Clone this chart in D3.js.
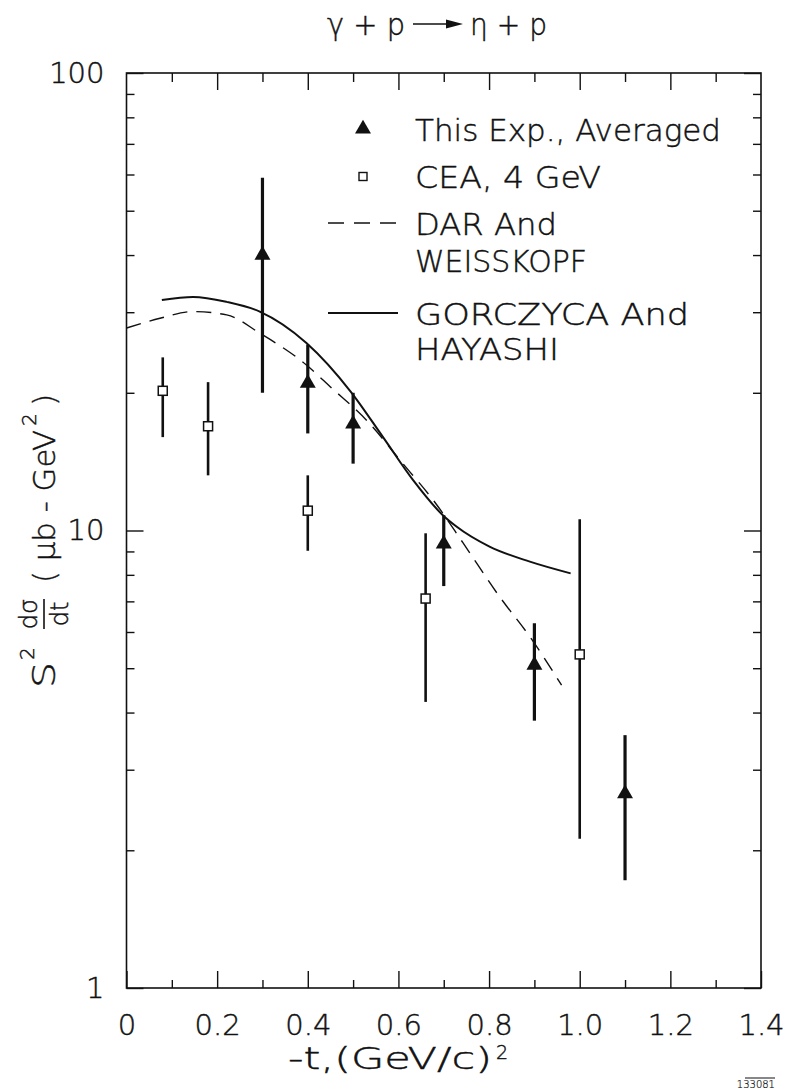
<!DOCTYPE html>
<html>
<head>
<meta charset="utf-8">
<script src="https://cdn.jsdelivr.net/npm/d3@7"></script>
<style>
  body { margin: 0; background: #fff; }
  svg { display: block; }
  text { font-family: "DejaVu Sans", "Liberation Sans", sans-serif; font-weight: 200; fill: #111; stroke: #111; stroke-width: 0.45px; }
</style>
</head>
<body>
<div id="chart"></div>
<script>
// tick values
let x_major = [0, 0.2, 0.4, 0.6, 0.8, 1.0, 1.2, 1.4]
let x_labels = ["0", "0.2", "0.4", "0.6", "0.8", "1.0", "1.2", "1.4"]
let x_minor = [0.1, 0.3, 0.5, 0.7, 0.9, 1.1, 1.3]
let y_major = [1, 10, 100]
let y_labels = ["1", "10", "100"]
let y_minor = [2, 3, 4, 5, 6, 7, 8, 9, 20, 30, 40, 50, 60, 70, 80, 90]

// this experiment, averaged (triangles)
let exp_t = [0.3, 0.4, 0.5, 0.7, 0.9, 1.1]
let exp_val = [40, 21, 17.1, 9.35, 5.08, 2.66]
let exp_lo = [20, 16.3, 14.0, 7.56, 3.84, 1.72]
let exp_hi = [59, 25.5, 20.0, 10.8, 6.27, 3.57]

// CEA, 4 GeV (open squares)
let cea_t = [0.08, 0.18, 0.4, 0.66, 1.0]
let cea_val = [20.2, 16.9, 11.05, 7.1, 5.36]
let cea_lo = [16.0, 13.2, 9.03, 4.22, 2.12]
let cea_hi = [23.9, 21.1, 13.2, 9.86, 10.58]

// Dar and Weisskopf (dashed)
let dar_t = [0, 0.074, 0.147, 0.221, 0.294, 0.397, 0.45, 0.53, 0.61, 0.684, 0.743, 0.823, 0.89, 0.96]
let dar_val = [27.7, 29.1, 30.1, 29.6, 27.0, 23.0, 20.6, 17.4, 14.0, 11.4, 9.38, 7.17, 5.86, 4.59]

// Gorczyca and Hayashi (solid)
let gh_t = [0.078, 0.147, 0.221, 0.294, 0.397, 0.495, 0.566, 0.632, 0.698, 0.728, 0.801, 0.89, 0.98]
let gh_val = [31.9, 32.4, 31.6, 30.1, 25.7, 20.1, 16.0, 12.9, 10.8, 10.2, 9.22, 8.55, 8.06]

let width = 791
let height = 1090

let svg = d3.select("#chart").append("svg")
.attr("width", width)
.attr("height", height)

let x = d3.scaleLinear()
.domain([0, 1.4])
.range([126.5, 761])

let y = d3.scaleLog()
.domain([1, 100])
.range([988, 73])

// frame
svg.append("rect")
.attr("x", x(0))
.attr("y", y(100))
.attr("width", x(1.4) - x(0))
.attr("height", y(1) - y(100))
.attr("fill", "none")
.attr("stroke", "#111")
.attr("stroke-width", 1.6)

function styleAxis(g){
  g.select(".domain").remove()
  g.selectAll(".tick line").attr("stroke", "#111").attr("stroke-width", 1.4)
  g.selectAll(".tick text").attr("fill", "#111").style("font-size", "29px")
}

// bottom
svg.append("g")
.attr("transform", `translate(0,${y(1)})`)
.call(d3.axisBottom(x).tickValues(x_major).tickSize(-17).tickPadding(26).tickFormat((d, i) => x_labels[i]))
.call(styleAxis)

svg.append("g")
.attr("transform", `translate(0,${y(1)})`)
.call(d3.axisBottom(x).tickValues(x_minor).tickSize(-8).tickFormat(""))
.call(styleAxis)

// top
svg.append("g")
.attr("transform", `translate(0,${y(100)})`)
.call(d3.axisTop(x).tickValues(x_major.slice(1, -1)).tickSize(-17).tickFormat(""))
.call(styleAxis)

svg.append("g")
.attr("transform", `translate(0,${y(100)})`)
.call(d3.axisTop(x).tickValues(x_minor).tickSize(-9).tickFormat(""))
.call(styleAxis)

// left
svg.append("g")
.attr("transform", `translate(${x(0)},0)`)
.call(d3.axisLeft(y).tickValues(y_major).tickSize(-17).tickPadding(22).tickFormat((d, i) => y_labels[i]))
.call(styleAxis)

svg.append("g")
.attr("transform", `translate(${x(0)},0)`)
.call(d3.axisLeft(y).tickValues(y_minor).tickSize(-8).tickFormat(""))
.call(styleAxis)

// right
svg.append("g")
.attr("transform", `translate(${x(1.4)},0)`)
.call(d3.axisRight(y).tickValues(y_major).tickSize(-17).tickFormat(""))
.call(styleAxis)

svg.append("g")
.attr("transform", `translate(${x(1.4)},0)`)
.call(d3.axisRight(y).tickValues(y_minor).tickSize(-8).tickFormat(""))
.call(styleAxis)

// theory curves
let line = d3.line()
.x(d => x(d[0]))
.y(d => y(d[1]))
.curve(d3.curveMonotoneX)

svg.append("path")
.datum(dar_t.map((t, i) => [t, dar_val[i]]))
.attr("d", line)
.attr("fill", "none")
.attr("stroke", "#111")
.attr("stroke-width", 1.4)
.attr("stroke-dasharray", "15,9")

svg.append("path")
.datum(gh_t.map((t, i) => [t, gh_val[i]]))
.attr("d", line)
.attr("fill", "none")
.attr("stroke", "#111")
.attr("stroke-width", 2)

// CEA points
let cea = cea_t.map((t, i) => ({t: t, v: cea_val[i], lo: cea_lo[i], hi: cea_hi[i]}))

svg.selectAll(".cea_err")
.data(cea)
.enter()
.append("line")
.attr("class", "cea_err")
.attr("x1", d => x(d.t))
.attr("x2", d => x(d.t))
.attr("y1", d => y(d.lo))
.attr("y2", d => y(d.hi))
.attr("stroke", "#111")
.attr("stroke-width", 2.6)

svg.selectAll(".cea_pt")
.data(cea)
.enter()
.append("rect")
.attr("class", "cea_pt")
.attr("x", d => x(d.t) - 4.5)
.attr("y", d => y(d.v) - 4.5)
.attr("width", 9)
.attr("height", 9)
.attr("fill", "white")
.attr("stroke", "#111")
.attr("stroke-width", 1.5)

// this experiment
let exp = exp_t.map((t, i) => ({t: t, v: exp_val[i], lo: exp_lo[i], hi: exp_hi[i]}))

svg.selectAll(".exp_err")
.data(exp)
.enter()
.append("line")
.attr("class", "exp_err")
.attr("x1", d => x(d.t))
.attr("x2", d => x(d.t))
.attr("y1", d => y(d.lo))
.attr("y2", d => y(d.hi))
.attr("stroke", "#111")
.attr("stroke-width", 3.2)

let tri = d3.symbol().type(d3.symbolTriangle).size(110)

svg.selectAll(".exp_pt")
.data(exp)
.enter()
.append("path")
.attr("class", "exp_pt")
.attr("d", tri)
.attr("transform", d => `translate(${x(d.t)},${y(d.v)})`)
.attr("fill", "#111")

// legend
let leg = svg.append("g")

leg.append("path")
.attr("d", tri)
.attr("transform", "translate(363,129)")
.attr("fill", "#111")

leg.append("rect")
.attr("x", 359)
.attr("y", 172.5)
.attr("width", 8)
.attr("height", 8)
.attr("fill", "white")
.attr("stroke", "#111")
.attr("stroke-width", 1.4)

leg.append("line")
.attr("x1", 328).attr("x2", 398)
.attr("y1", 223).attr("y2", 223)
.attr("stroke", "#111")
.attr("stroke-width", 1.4)
.attr("stroke-dasharray", "16,10")

leg.append("line")
.attr("x1", 328).attr("x2", 398)
.attr("y1", 313).attr("y2", 313)
.attr("stroke", "#111")
.attr("stroke-width", 1.8)

let leg_texts = [
  {t: "This Exp., Averaged", y: 141, w: 306},
  {t: "CEA, 4 GeV", y: 188, w: 186},
  {t: "DAR  And", y: 235, w: 142},
  {t: "WEISSKOPF", y: 272, w: 172},
  {t: "GORCZYCA  And", y: 325, w: 274},
  {t: "HAYASHI", y: 360, w: 144}
]

leg.selectAll("text")
.data(leg_texts)
.enter()
.append("text")
.attr("x", 415)
.attr("y", d => d.y)
.attr("textLength", d => d.w)
.attr("lengthAdjust", "spacingAndGlyphs")
.style("font-size", "30px")
.text(d => d.t)

// title
svg.append("text")
.attr("x", 327)
.attr("y", 35)
.attr("textLength", 78)
.attr("lengthAdjust", "spacingAndGlyphs")
.style("font-size", "30px")
.text("γ + p")

svg.append("line")
.attr("x1", 413).attr("x2", 450)
.attr("y1", 24).attr("y2", 24)
.attr("stroke", "#111")
.attr("stroke-width", 1.6)

svg.append("path")
.attr("d", "M446,19.5 L463,24 L446,28.5 Z")
.attr("fill", "#111")

svg.append("text")
.attr("x", 470)
.attr("y", 35)
.attr("textLength", 77)
.attr("lengthAdjust", "spacingAndGlyphs")
.style("font-size", "30px")
.text("η + p")

// x axis label
svg.append("text")
.attr("x", 288)
.attr("y", 1069)
.attr("textLength", 204)
.attr("lengthAdjust", "spacingAndGlyphs")
.style("font-size", "30px")
.text("-t,(GeV/c)")

svg.append("text")
.attr("x", 496)
.attr("y", 1059)
.style("font-size", "19px")
.text("2")

// y axis label
let yl = svg.append("g")
.attr("transform", "translate(55,690) rotate(-90)")

yl.append("text")
.attr("x", 2)
.attr("y", 0)
.attr("textLength", 26)
.attr("lengthAdjust", "spacingAndGlyphs")
.style("font-size", "32px")
.text("S")

yl.append("text")
.attr("x", 30)
.attr("y", -21)
.style("font-size", "20px")
.text("2")

yl.append("text")
.attr("x", 76)
.attr("y", -18)
.attr("text-anchor", "middle")
.style("font-size", "24px")
.text("dσ")

yl.append("line")
.attr("x1", 61).attr("x2", 91)
.attr("y1", -11).attr("y2", -11)
.attr("stroke", "#111")
.attr("stroke-width", 1.6)

yl.append("text")
.attr("x", 76)
.attr("y", 13)
.attr("text-anchor", "middle")
.style("font-size", "24px")
.text("dt")

yl.append("text")
.attr("x", 107)
.attr("y", 0)
.attr("textLength", 153)
.attr("lengthAdjust", "spacingAndGlyphs")
.style("font-size", "31px")
.text("( μb - GeV")

yl.append("text")
.attr("x", 264)
.attr("y", -19)
.style("font-size", "20px")
.text("2")

yl.append("text")
.attr("x", 284)
.attr("y", 0)
.style("font-size", "31px")
.text(")")

// plate number
svg.append("text")
.attr("x", 775)
.attr("y", 1088)
.attr("text-anchor", "end")
.style("font-size", "10px")
.style("stroke-width", "0.2px")
.text("133081")

svg.append("line")
.attr("x1", 745).attr("x2", 775)
.attr("y1", 1078).attr("y2", 1078)
.attr("stroke", "#111")
.attr("stroke-width", 1)
</script>
</body>
</html>
